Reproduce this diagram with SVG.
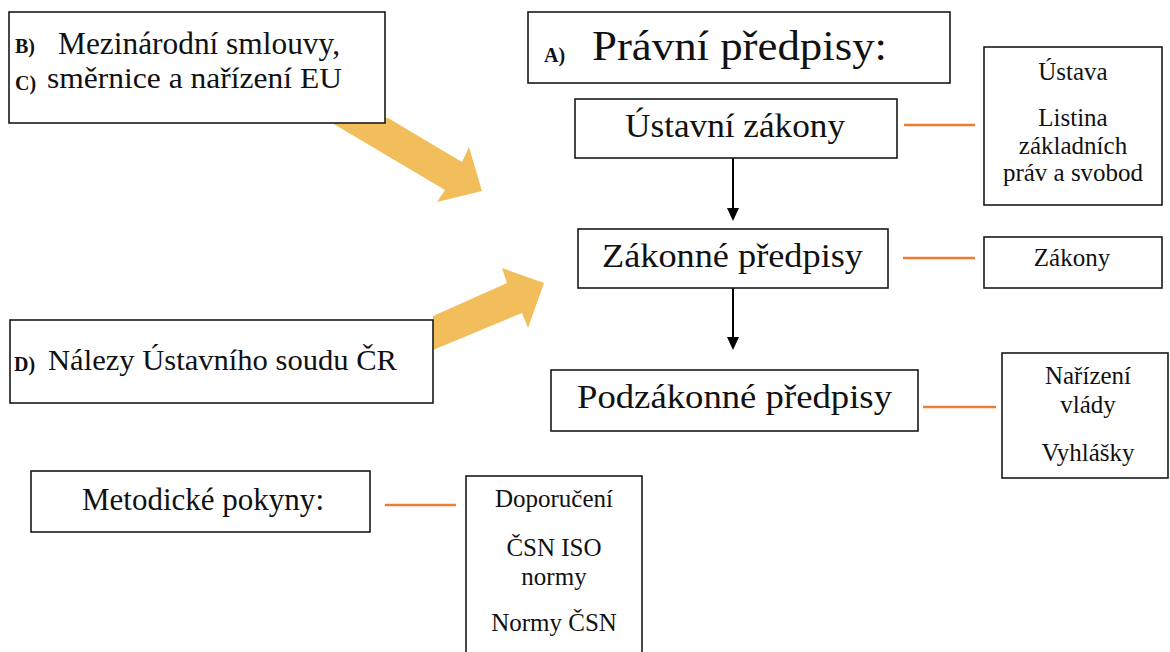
<svg xmlns="http://www.w3.org/2000/svg" width="1170" height="652" viewBox="0 0 1170 652">
<style>
.box{fill:#fff;stroke:#1a1a1a;stroke-width:1.6}
.big{font-family:"Liberation Serif","Times New Roman",serif;fill:#111}
.lbl{font-family:"Liberation Serif","Times New Roman",serif;font-weight:bold;font-size:20px;fill:#111}
.sm{font-family:"Liberation Serif","Times New Roman",serif;font-size:25px;fill:#111;text-anchor:middle}
.or{stroke:#ED7D31;stroke-width:2.5;fill:none}
.blk{stroke:#000;stroke-width:2;fill:none}
.blkh{fill:#000}
.ya{fill:#F2BE5C}
</style>
<g id="connectors">
<polygon class="ya" points="332,123 388,118 462,162 469,147 482,191 437,202 445,190"/>
<polygon class="ya" points="433,316 507,283 502,268 544,283 528,328 522,313 433,350"/>
<line class="blk" x1="733" y1="158" x2="733" y2="210"/>
<polygon class="blkh" points="727,208 739,208 733,221"/>
<line class="blk" x1="733" y1="288" x2="733" y2="338"/>
<polygon class="blkh" points="727,337 739,337 733,350"/>
<line class="or" x1="904" y1="125" x2="975" y2="125"/>
<line class="or" x1="903" y1="258" x2="975" y2="258"/>
<line class="or" x1="923" y1="407" x2="996" y2="407"/>
<line class="or" x1="385" y1="505" x2="456" y2="505"/>
</g>
<g id="node-bc">
<rect class="box" x="9" y="12" width="376" height="111"/>
<text class="lbl" x="15" y="53">B)</text>
<text class="big" x="58" y="54" font-size="31" textLength="282" lengthAdjust="spacingAndGlyphs">Mezinárodní smlouvy,</text>
<text class="lbl" x="15" y="90">C)</text>
<text class="big" x="47" y="88" font-size="30" textLength="295" lengthAdjust="spacingAndGlyphs">směrnice a nařízení EU</text>
</g>
<g id="node-a">
<rect class="box" x="528" y="12" width="422" height="71"/>
<text class="lbl" x="544" y="62">A)</text>
<text class="big" x="592" y="60" font-size="42" textLength="295" lengthAdjust="spacingAndGlyphs">Právní předpisy:</text>
</g>
<g id="node-ustavni">
<rect class="box" x="575" y="99" width="322" height="59"/>
<text class="big" x="625" y="137" font-size="33" textLength="220" lengthAdjust="spacingAndGlyphs">Ústavní zákony</text>
</g>
<g id="node-zakonne">
<rect class="box" x="578" y="229" width="310" height="59"/>
<text class="big" x="602" y="267" font-size="33" textLength="261" lengthAdjust="spacingAndGlyphs">Zákonné předpisy</text>
</g>
<g id="node-podzakonne">
<rect class="box" x="551" y="370" width="367" height="61"/>
<text class="big" x="577" y="408" font-size="33" textLength="315" lengthAdjust="spacingAndGlyphs">Podzákonné předpisy</text>
</g>
<g id="node-d">
<rect class="box" x="10" y="320" width="423" height="83"/>
<text class="lbl" x="14" y="371">D)</text>
<text class="big" x="48" y="370" font-size="30" textLength="349" lengthAdjust="spacingAndGlyphs">Nálezy Ústavního soudu ČR</text>
</g>
<g id="node-metodicke">
<rect class="box" x="31" y="471" width="339" height="61"/>
<text class="big" x="82" y="510" font-size="31" textLength="242" lengthAdjust="spacingAndGlyphs">Metodické pokyny:</text>
</g>
<g id="node-ustava">
<rect class="box" x="984" y="47" width="178" height="158"/>
<text class="sm" x="1073" y="80">Ústava</text>
<text class="sm" x="1073" y="126">Listina</text>
<text class="sm" x="1073" y="154">základních</text>
<text class="sm" x="1073" y="181">práv a svobod</text>
</g>
<g id="node-zakony">
<rect class="box" x="984" y="237" width="178" height="51"/>
<text class="sm" x="1072" y="266">Zákony</text>
</g>
<g id="node-narizeni">
<rect class="box" x="1002" y="353" width="166" height="125"/>
<text class="sm" x="1088" y="384">Nařízení</text>
<text class="sm" x="1088" y="413">vlády</text>
<text class="sm" x="1088" y="461">Vyhlášky</text>
</g>
<g id="node-doporuceni">
<rect class="box" x="466" y="476" width="176" height="190"/>
<text class="sm" x="554" y="507">Doporučení</text>
<text class="sm" x="554" y="556">ČSN ISO</text>
<text class="sm" x="554" y="585">normy</text>
<text class="sm" x="554" y="631">Normy ČSN</text>
</g>
</svg>
